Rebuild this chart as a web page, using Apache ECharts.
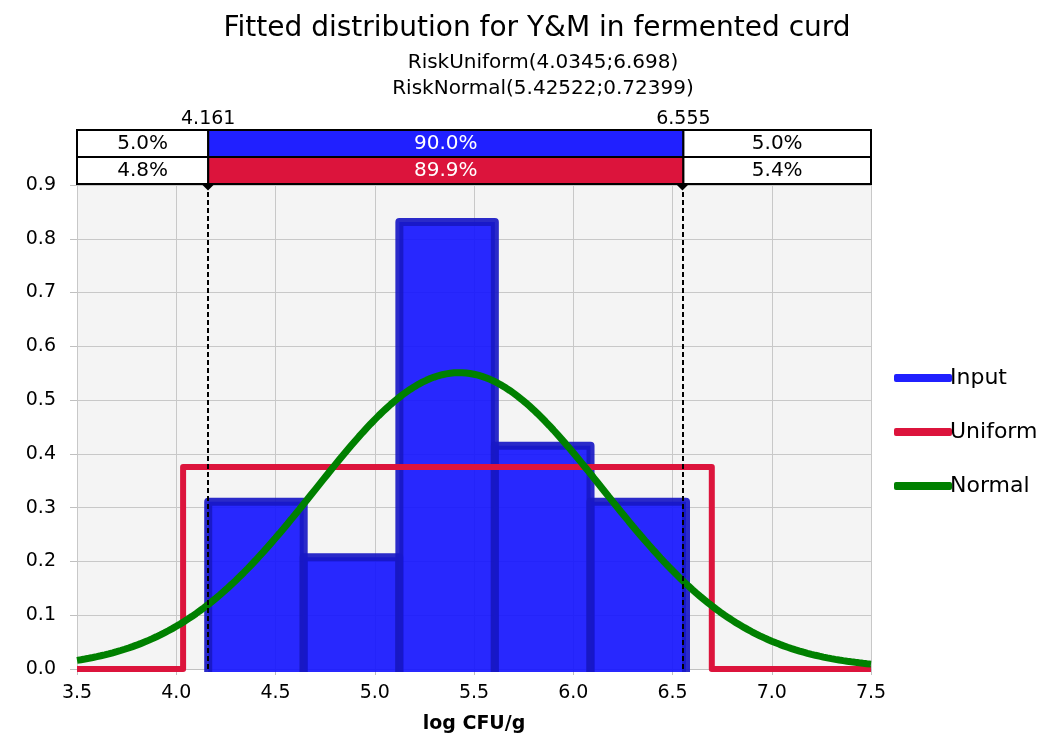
<!DOCTYPE html>
<html>
<head>
<meta charset="utf-8">
<title>Fitted distribution for Y&amp;M in fermented curd</title>
<script src="https://cdn.jsdelivr.net/npm/echarts@6/dist/echarts.min.js"></script>
<style>
  html, body { margin: 0; padding: 0; background: #ffffff; }
  #chart { width: 1043px; height: 738px; }
</style>
</head>
<body>
<div id="chart"></div>
<script>
// ---- data ----
const chartTitle = 'Fitted distribution for Y&M in fermented curd';
const subTitles = ['RiskUniform(4.0345;6.698)', 'RiskNormal(5.42522;0.72399)'];
const xAxisName = 'log CFU/g';

// histogram of the input sample (bin edges and density per bin)
const binEdges = [4.161, 4.642, 5.124, 5.605, 6.087, 6.568];
const inputDensity = [0.311, 0.208, 0.831, 0.415, 0.311];

// fitted distributions
const uniformMin = 4.0345;
const uniformMax = 6.698;
const normalMean = 5.42522;
const normalSd = 0.72399;

// 5% / 95% markers and the probability band above the plot
const percentileMarks = [4.161, 6.555];
const percentileLabels = ['4.161', '6.555'];
const bandInput = ['5.0%', '90.0%', '5.0%'];
const bandUniform = ['4.8%', '89.9%', '5.4%'];

const seriesNames = ['Input', 'Uniform', 'Normal'];
const seriesColors = ['#2020ff', '#dc143c', '#008000'];

// ---- derived series ----
const xMin = 3.5, xMax = 7.5;
const FONT = 'DejaVu Sans';
const font = px => px + 'px "' + FONT + '"';

const histData = inputDensity.map((d, i) => [binEdges[i], binEdges[i + 1], d]);

const uniformHeight = 1 / (uniformMax - uniformMin);
const uniformData = [
  [xMin, 0], [uniformMin, 0], [uniformMin, uniformHeight],
  [uniformMax, uniformHeight], [uniformMax, 0], [xMax, 0]
];

// density of the fitted normal, evaluated along the x range
const normalData = [];
for (let k = 0; k <= 200; k++) {
  const x = xMin + (xMax - xMin) * k / 200;
  const z = (x - normalMean) / normalSd;
  normalData.push([x, Math.exp(-0.5 * z * z) / (normalSd * Math.sqrt(2 * Math.PI))]);
}

const bandEdges = [xMin, percentileMarks[0], percentileMarks[1], xMax];
const bandData = [];
[bandInput, bandUniform].forEach((row, r) => {
  row.forEach((txt, c) => {
    bandData.push([bandEdges[c], bandEdges[c + 1], r, txt, c === 1 ? seriesColors[r] : '#ffffff']);
  });
});

const chart = echarts.init(document.getElementById('chart'), null, { renderer: 'canvas' });

const option = {
  backgroundColor: '#ffffff',
  animation: false,
  textStyle: { fontFamily: FONT },
  graphic: [
    { type: 'text', x: 537, y: 29, style: { text: chartTitle, font: font(28), fill: '#000', textAlign: 'center', textVerticalAlign: 'middle' } },
    { type: 'text', x: 543, y: 63, style: { text: subTitles[0], font: font(20), fill: '#000', textAlign: 'center', textVerticalAlign: 'middle' } },
    { type: 'text', x: 543, y: 89, style: { text: subTitles[1], font: font(20), fill: '#000', textAlign: 'center', textVerticalAlign: 'middle' } }
  ],
  legend: {
    orient: 'vertical',
    left: 889,
    top: 362,
    itemWidth: 58,
    itemHeight: 8,
    itemGap: 32,
    icon: 'roundRect',
    data: seriesNames,
    textStyle: { fontSize: 22, color: '#000', fontFamily: FONT, padding: [0, 0, 0, -7] }
  },
  grid: [
    { left: 77, right: 172, top: 185, bottom: 69, show: true, backgroundColor: '#f4f4f4', borderWidth: 0, outerBoundsMode: 'none', containLabel: false },
    { left: 77, right: 172, top: 130, height: 54, show: false, outerBoundsMode: 'none' }
  ],
  xAxis: [
    {
      type: 'value', gridIndex: 0, min: xMin, max: xMax, interval: 0.5,
      name: xAxisName, nameLocation: 'middle', nameGap: 46,
      nameTextStyle: { fontSize: 19, fontWeight: 'bold', color: '#000', fontFamily: FONT },
      axisLine: { show: true, lineStyle: { color: '#c0c0c0', width: 1 } },
      axisTick: { show: true, length: 6, lineStyle: { color: '#c0c0c0' } },
      axisLabel: { fontSize: 19, color: '#000', margin: 15, formatter: v => v.toFixed(1) },
      splitLine: { show: true, lineStyle: { color: '#c8c8c8', width: 1 } }
    },
    { type: 'value', gridIndex: 1, min: xMin, max: xMax, show: false }
  ],
  yAxis: [
    {
      type: 'value', gridIndex: 0, min: 0, max: 0.9, interval: 0.1,
      axisLine: { show: false },
      axisTick: { show: true, length: 7, lineStyle: { color: '#c0c0c0' } },
      axisLabel: { fontSize: 19, color: '#000', margin: 21, formatter: v => v.toFixed(1) },
      splitLine: { show: true, lineStyle: { color: '#c8c8c8', width: 1 } }
    },
    { type: 'value', gridIndex: 1, min: 0, max: 2, inverse: true, show: false }
  ],
  series: [
    {
      name: seriesNames[0],
      type: 'custom',
      xAxisIndex: 0, yAxisIndex: 0,
      z: 2,
      itemStyle: { color: seriesColors[0] },
      data: histData,
      renderItem: function (params, api) {
        const p0 = api.coord([api.value(0), api.value(2)]);
        const p1 = api.coord([api.value(1), 0]);
        const bottom = p1[1] + 3;
        return {
          type: 'group',
          children: [
            {
              type: 'rect',
              shape: { x: p0[0], y: p0[1], width: p1[0] - p0[0], height: bottom - p0[1] },
              style: { fill: 'rgba(18,18,255,0.9)' }
            },
            {
              type: 'polyline',
              shape: { points: [[p0[0], bottom - 4], [p0[0], p0[1]], [p1[0], p0[1]], [p1[0], bottom - 4]] },
              style: { fill: null, stroke: 'rgba(24,24,196,0.92)', lineWidth: 8, lineJoin: 'round', lineCap: 'square' }
            }
          ]
        };
      }
    },
    {
      name: seriesNames[1],
      type: 'line',
      xAxisIndex: 0, yAxisIndex: 0,
      z: 3,
      data: uniformData,
      showSymbol: false,
      symbol: 'none',
      itemStyle: { color: seriesColors[1] },
      lineStyle: { color: seriesColors[1], width: 6, join: 'round' },
      clip: false
    },
    {
      name: seriesNames[2],
      type: 'line',
      xAxisIndex: 0, yAxisIndex: 0,
      z: 4,
      data: normalData,
      showSymbol: false,
      symbol: 'none',
      itemStyle: { color: seriesColors[2] },
      lineStyle: { color: seriesColors[2], width: 7 },
      markLine: {
        silent: true,
        symbol: ['none', 'diamond'],
        symbolSize: [11, 11],
        label: { show: false },
        lineStyle: { color: '#000', type: [5, 3], width: 2 },
        itemStyle: { color: '#000', borderColor: '#2040a0', borderWidth: 1 },
        data: percentileMarks.map(p => ({ xAxis: p }))
      }
    },
    {
      name: 'band',
      type: 'custom',
      xAxisIndex: 1, yAxisIndex: 1,
      silent: true,
      z: 5,
      data: bandData,
      renderItem: function (params, api) {
        const x0 = api.value(0), x1 = api.value(1), r = api.value(2);
        const p0 = api.coord([x0, r]);
        const p1 = api.coord([x1, r + 1]);
        const fill = bandData[params.dataIndex][4];
        const txt = bandData[params.dataIndex][3];
        return {
          type: 'rect',
          shape: { x: p0[0], y: p0[1], width: p1[0] - p0[0], height: p1[1] - p0[1] },
          style: { fill: fill, stroke: '#000', lineWidth: 2 },
          textContent: {
            style: { text: txt, fill: fill === '#ffffff' ? '#000' : '#fff', font: font(20) }
          },
          textConfig: { position: 'inside' }
        };
      }
    },
    {
      name: 'marks',
      type: 'custom',
      xAxisIndex: 1, yAxisIndex: 1,
      silent: true,
      z: 5,
      data: percentileMarks.map((p, i) => [p, i]),
      renderItem: function (params, api) {
        const p = api.coord([api.value(0), 0]);
        return {
          type: 'text',
          x: p[0], y: p[1] - 11,
          style: {
            text: percentileLabels[params.dataIndex],
            font: font(19), fill: '#000',
            textAlign: 'center', textVerticalAlign: 'middle'
          }
        };
      }
    }
  ]
};

chart.setOption(option);
</script>
</body>
</html>
